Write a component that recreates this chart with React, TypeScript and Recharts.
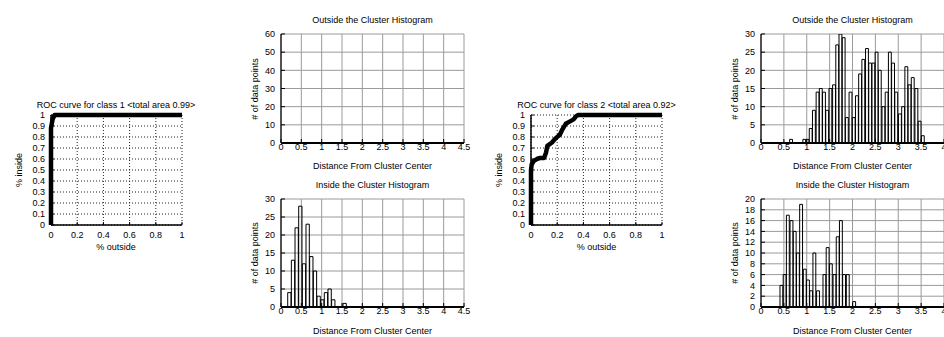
import React from 'react';
import { ComposedChart, LineChart, Line, Bar, XAxis, YAxis, CartesianGrid } from 'recharts';

// ---------- data ----------
const rocXTicks = [0, 0.2, 0.4, 0.6, 0.8, 1];
const rocYTicks = [0, 0.1, 0.2, 0.3, 0.4, 0.5, 0.6, 0.7, 0.8, 0.9, 1];

const roc1X = [0, 0, 0.012, 0.028, 1];
const roc1Y = [0, 0.88, 0.96, 1, 1];

const roc2X = [0, 0, 0.005, 0.02, 0.045, 0.07, 0.1, 0.115, 0.125, 0.16, 0.19, 0.22, 0.24, 0.265, 0.295, 0.325, 0.345, 0.36, 1];
const roc2Y = [0, 0.5, 0.55, 0.58, 0.6, 0.61, 0.61, 0.66, 0.72, 0.75, 0.79, 0.82, 0.87, 0.92, 0.94, 0.96, 0.99, 1, 1];

const hist1XTicks = [0, 0.5, 1, 1.5, 2, 2.5, 3, 3.5, 4, 4.5];
const hist2XTicks = [0, 0.5, 1, 1.5, 2, 2.5, 3, 3.5, 4];

const hist1OutYTicks = [0, 10, 20, 30, 40, 50, 60];
const hist1OutBins: number[] = [];
const hist1OutCounts: number[] = [];

const hist1InYTicks = [0, 5, 10, 15, 20, 25, 30];
const hist1InBins = [0.21, 0.30, 0.39, 0.48, 0.57, 0.66, 0.75, 0.84, 0.93, 1.02, 1.11, 1.20, 1.29, 1.38, 1.48, 1.57];
const hist1InCounts = [4, 13, 22, 28, 12, 23, 14, 10, 3, 2, 4, 5, 2, 0, 0, 1];

const hist2OutYTicks = [0, 5, 10, 15, 20, 25, 30];
const hist2OutBins = [0.66, 0.73, 0.80, 0.88, 0.95, 1.02, 1.09, 1.16, 1.24, 1.31, 1.38, 1.45, 1.52, 1.60, 1.67, 1.74, 1.81, 1.88, 1.96, 2.03, 2.10, 2.17, 2.24, 2.32, 2.39, 2.46, 2.53, 2.60, 2.68, 2.75, 2.82, 2.89, 2.96, 3.04, 3.11, 3.18, 3.25, 3.32, 3.40, 3.47, 3.54];
const hist2OutCounts = [1, 0, 0, 0, 1, 1, 4, 9, 14, 15, 14, 9, 15, 16, 27, 30, 29, 7, 14, 7, 13, 19, 23, 26, 22, 22, 25, 20, 10, 14, 25, 22, 14, 8, 10, 21, 16, 18, 15, 6, 2];

const hist2InYTicks = [0, 2, 4, 6, 8, 10, 12, 14, 16, 18, 20];
const hist2InBins = [0.45, 0.52, 0.59, 0.67, 0.74, 0.81, 0.88, 0.96, 1.03, 1.10, 1.17, 1.25, 1.32, 1.39, 1.46, 1.53, 1.61, 1.68, 1.75, 1.82, 1.90, 1.97, 2.04];
const hist2InCounts = [4, 6, 17, 16, 14, 10, 19, 7, 5, 3, 10, 3, 0, 6, 11, 8, 6, 13, 16, 6, 6, 0, 1];

// ---------- helpers ----------
const FONT = '"Liberation Sans", Arial, Helvetica, sans-serif';
const tickStyle = { fontSize: 9, fill: '#000' };

function Txt({ cx, cy, text, rotate }: { cx: number; cy: number; text: string; rotate?: boolean }) {
  const w = 240;
  return (
    <div
      style={{
        position: 'absolute',
        left: cx - w / 2,
        top: cy - 6,
        width: w,
        height: 12,
        lineHeight: '12px',
        fontSize: 9,
        textAlign: 'center',
        whiteSpace: 'nowrap',
        color: '#000',
        transform: rotate ? 'rotate(-90deg)' : undefined,
        transformOrigin: 'center center',
      }}
    >
      {text}
    </div>
  );
}

const LW = 40;
const MT = 6;
const MR = 14;

function Roc({ left, top, w, h, xs, ys }: { left: number; top: number; w: number; h: number; xs: number[]; ys: number[] }) {
  const BH = 20;
  const data = xs.map((x, i) => ({ x, y: ys[i] }));
  return (
    <div style={{ position: 'absolute', left: left - LW, top: top - MT }}>
      <LineChart width={LW + w + MR} height={MT + h + BH} data={data} margin={{ top: MT, right: MR, left: 0, bottom: 0 }}>
        <CartesianGrid stroke="#222" strokeDasharray="1 2" strokeWidth={1} />
        <XAxis type="number" dataKey="x" domain={[0, 1]} ticks={rocXTicks} interval={0} height={BH}
          tickSize={-3} tickMargin={10} stroke="#000" axisLine={{ strokeWidth: 1.5 }} tick={tickStyle} />
        <XAxis xAxisId="t" orientation="top" type="number" domain={[0, 1]} ticks={rocXTicks} interval={0} height={0}
          tickSize={-3} tick={false} stroke="#000" axisLine={{ strokeWidth: 1.5 }} />
        <YAxis type="number" domain={[0, 1]} ticks={rocYTicks} interval={0} width={LW}
          tickSize={-3} tickMargin={9} stroke="#000" axisLine={{ strokeWidth: 1.5 }} tick={tickStyle} />
        <YAxis yAxisId="r" orientation="right" type="number" domain={[0, 1]} ticks={rocYTicks} interval={0} width={0}
          tickSize={-3} tick={false} stroke="#000" axisLine={{ strokeWidth: 1.5 }} />
        <Line type="linear" dataKey="y" stroke="#000" strokeWidth={4.5} dot={false} isAnimationActive={false} strokeLinejoin="round" />
      </LineChart>
    </div>
  );
}

function Hist({ left, top, w, h, xMax, xTicks, yMax, yTicks, bins, counts, barPx }: {
  left: number; top: number; w: number; h: number; xMax: number; xTicks: number[]; yMax: number; yTicks: number[];
  bins: number[]; counts: number[]; barPx: number;
}) {
  const BH = 20;
  const data = bins.map((x, i) => ({ x, n: counts[i] }));
  return (
    <div style={{ position: 'absolute', left: left - LW, top: top - MT }}>
      <ComposedChart width={LW + w + MR} height={MT + h + BH} data={data} margin={{ top: MT, right: MR, left: 0, bottom: 0 }} barCategoryGap={0}>
        <CartesianGrid stroke="#9a9a9a" strokeWidth={1} />
        <XAxis type="number" dataKey="x" domain={[0, xMax]} ticks={xTicks} interval={0} allowDataOverflow height={BH}
          tickSize={-4} tickMargin={5} stroke="#000" axisLine={{ strokeWidth: 2 }} tick={tickStyle} />
        <XAxis xAxisId="t" orientation="top" type="number" domain={[0, xMax]} ticks={xTicks} interval={0} allowDataOverflow height={0}
          tickSize={-4} tick={false} stroke="#000" axisLine={{ strokeWidth: 1.5 }} />
        <YAxis type="number" domain={[0, yMax]} ticks={yTicks} interval={0} allowDataOverflow width={LW}
          tickSize={-4} tickMargin={10} stroke="#000" axisLine={{ strokeWidth: 1.2 }} tick={tickStyle} />
        <YAxis yAxisId="r" orientation="right" type="number" domain={[0, yMax]} ticks={yTicks} interval={0} allowDataOverflow width={0}
          tickSize={-4} tick={false} stroke="#000" axisLine={{ strokeWidth: 1.2 }} />
        <Bar dataKey="n" fill="none" stroke="#000" strokeWidth={1} barSize={barPx} isAnimationActive={false} />
      </ComposedChart>
    </div>
  );
}

export default function App() {
  return (
    <div style={{ position: 'absolute', left: 0, top: 0, width: 944, height: 337, overflow: 'hidden', background: '#fff', fontFamily: FONT }}>
      {/* class 1 ROC */}
      <Txt cx={116} cy={105} text="ROC curve for class 1 <total area 0.99>" />
      <Roc left={51} top={115} w={131} h={110} xs={roc1X} ys={roc1Y} />
      <Txt cx={116} cy={247} text="% outside" />
      <Txt cx={19} cy={170} text="% inside" rotate />

      {/* class 1 histograms */}
      <Txt cx={372.5} cy={20} text="Outside the Cluster Histogram" />
      <Hist left={281} top={34} w={183} h={109} xMax={4.5} xTicks={hist1XTicks} yMax={60} yTicks={hist1OutYTicks}
        bins={hist1OutBins} counts={hist1OutCounts} barPx={3.7} />
      <Txt cx={372.5} cy={165.5} text="Distance From Cluster Center" />
      <Txt cx={255} cy={88.5} text="# of data points" rotate />

      <Txt cx={372.5} cy={185} text="Inside the Cluster Histogram" />
      <Hist left={281} top={199} w={183} h={108} xMax={4.5} xTicks={hist1XTicks} yMax={30} yTicks={hist1InYTicks}
        bins={hist1InBins} counts={hist1InCounts} barPx={3.7} />
      <Txt cx={372.5} cy={330.5} text="Distance From Cluster Center" />
      <Txt cx={255} cy={253} text="# of data points" rotate />

      {/* class 2 ROC */}
      <Txt cx={596.5} cy={105} text="ROC curve for class 2 <total area 0.92>" />
      <Roc left={531} top={115} w={131} h={110} xs={roc2X} ys={roc2Y} />
      <Txt cx={596.5} cy={247} text="% outside" />
      <Txt cx={499} cy={170} text="% inside" rotate />

      {/* class 2 histograms */}
      <Txt cx={852.5} cy={20} text="Outside the Cluster Histogram" />
      <Hist left={761} top={34} w={183} h={109} xMax={4} xTicks={hist2XTicks} yMax={30} yTicks={hist2OutYTicks}
        bins={hist2OutBins} counts={hist2OutCounts} barPx={3.3} />
      <Txt cx={852.5} cy={165.5} text="Distance From Cluster Center" />
      <Txt cx={735} cy={88.5} text="# of data points" rotate />

      <Txt cx={852.5} cy={185} text="Inside the Cluster Histogram" />
      <Hist left={761} top={199} w={183} h={108} xMax={4} xTicks={hist2XTicks} yMax={20} yTicks={hist2InYTicks}
        bins={hist2InBins} counts={hist2InCounts} barPx={3.3} />
      <Txt cx={852.5} cy={330.5} text="Distance From Cluster Center" />
      <Txt cx={735} cy={253} text="# of data points" rotate />
    </div>
  );
}
